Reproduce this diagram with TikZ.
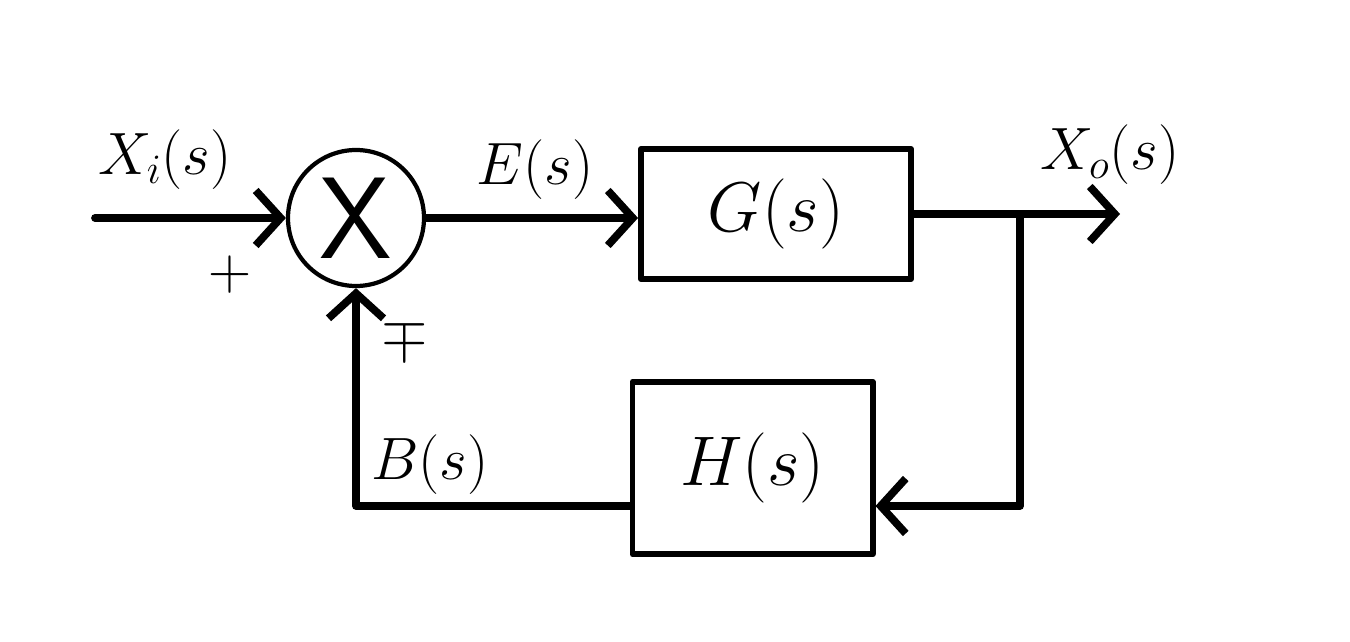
\documentclass[tikz,border=0pt]{standalone}
\usepackage{fix-cm}
\usepackage{amsmath, amssymb}
\usepackage{tikz}
\usetikzlibrary{arrows.meta, positioning, calc}

\begin{document}
\begin{tikzpicture}[>={Straight Barb[length=5mm,width=11mm]},
    line cap=round, line join=round,
    blk/.style={draw, line width=3.4pt, minimum width=5.4cm, minimum height=2.6cm,
        font=\fontsize{40}{44}\selectfont},
    sumnode/.style={draw, circle, line width=2.4pt, minimum size=2.72cm,
        font=\sffamily\fontsize{66}{66}\selectfont},
    sig/.style={line width=4.4pt},
    lbl/.style={font=\fontsize{34}{38}\selectfont}]
    \useasboundingbox (0,0) rectangle (27,12.82);

    % 1. Cac khoi
    \node[sumnode] (sum) at (7.12,8.46) {X};
    \node[blk] (G) at (15.52,8.54) {$G(s)$};
    \node[blk, minimum width=4.8cm, minimum height=3.45cm] (H) at (15.05,3.46) {$H(s)$};

    % 2. Cac diem nut
    \coordinate (in) at (1.9,8.46);
    \coordinate (br) at (20.4,8.54);
    \coordinate (out) at (22.4,8.54);
    \coordinate (fbr) at (20.4,2.7);

    % 3. Duong tin hieu
    \draw[sig, ->] (in) -- (sum);
    \draw[sig, ->] (sum) -- (G.west |- sum);
    \draw[sig, ->] (G.east |- br) -- (out);
    \draw[sig, ->] (br) -- (fbr) -- (H.east |- fbr);
    \draw[sig, ->] (H.west |- fbr) -| (sum.south);

    % 4. Nhan
    \node[lbl] (xi) at (3.3,9.62) {$X_i(s)$};
    \node[lbl] (plus) at (4.6,7.32) {$+$};
    \node[lbl] (mp) at (8.1,6.05) {$\mp$};
    \node[lbl] (es) at (10.7,9.42) {$E(s)$};
    \node[lbl] (xo) at (22.2,9.72) {$X_o(s)$};
    \node[lbl] (bs) at (8.6,3.52) {$B(s)$};
\end{tikzpicture}
\end{document}
